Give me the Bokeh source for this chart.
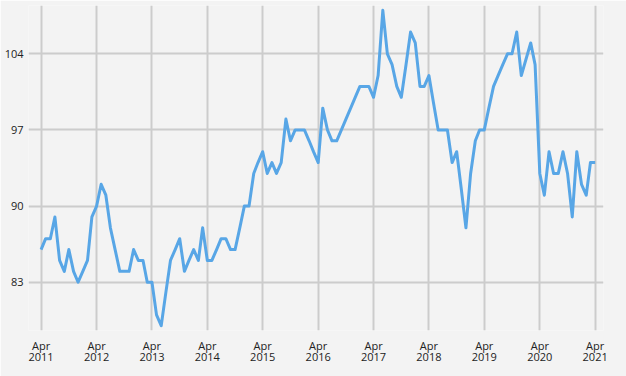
import pandas as pd
from bokeh.plotting import figure
from bokeh.models import FixedTicker, Range1d, ColumnDataSource
from bokeh.embed import file_html
from bokeh.resources import INLINE

start_month = "2011-04-01"
values = [
    # 2011 Apr-Dec
    86, 87, 87, 89, 85, 84, 86, 84, 83,
    # 2012
    84, 85, 89, 90, 92, 91, 88, 86, 84, 84, 84, 86,
    # 2013
    85, 85, 83, 83, 80, 79, 82, 85, 86, 87, 84, 85,
    # 2014
    86, 85, 88, 85, 85, 86, 87, 87, 86, 86, 88, 90,
    # 2015
    90, 93, 94, 95, 93, 94, 93, 94, 98, 96, 97, 97,
    # 2016
    97, 96, 95, 94, 99, 97, 96, 96, 97, 98, 99, 100,
    # 2017
    101, 101, 101, 100, 102, 108, 104, 103, 101, 100, 103, 106,
    # 2018
    105, 101, 101, 102, 99.5, 97, 97, 97, 94, 95, 91.5, 88,
    # 2019
    93, 96, 97, 97, 99, 101, 102, 103, 104, 104, 106, 102,
    # 2020
    103.5, 105, 103, 93, 91, 95, 93, 93, 95, 93, 89, 95,
    # 2021 Jan-Apr
    92, 91, 94, 94,
]
dates = pd.date_range(start_month, periods=len(values), freq="MS")

tick_years = list(range(2011, 2022))
tick_month_label = "Apr"
y_ticks = [83, 90, 97, 104]

def ms(d):
    return (pd.Timestamp(d) - pd.Timestamp("1970-01-01")) // pd.Timedelta(milliseconds=1)

x_ticks = [ms(f"{y}-04-01") for y in tick_years]
x_labels = {float(t): f"{tick_month_label}\n{y}" for t, y in zip(x_ticks, tick_years)}

src = ColumnDataSource(dict(x=dates, y=values))

BG = "#f3f3f3"
p = figure(width=626, height=376, x_axis_type="datetime",
           output_backend="svg", toolbar_location=None,
           background_fill_color=BG, border_fill_color=BG,
           min_border_left=28, min_border_right=23, min_border_top=5, min_border_bottom=46,
           x_range=Range1d(ms("2011-01-08"), ms("2021-05-26")),
           y_range=Range1d(78.56, 108.44))
p.outline_line_color = None

p.line("x", "y", source=src, line_color="#58a6e6", line_width=3, line_join="round")

p.xaxis.ticker = FixedTicker(ticks=x_ticks)
p.xaxis.major_label_overrides = x_labels
p.yaxis.ticker = FixedTicker(ticks=y_ticks)

for ax in (p.xaxis, p.yaxis):
    ax.axis_line_color = None
    ax.major_tick_line_color = None
    ax.minor_tick_line_color = None
    ax.major_tick_out = 0
    ax.major_tick_in = 0
    ax.minor_tick_out = 0
    ax.minor_tick_in = 0
    ax.major_label_text_font = "Open Sans"
    ax.major_label_text_font_size = "11px"
    ax.major_label_text_color = "#222222"
p.xaxis.major_label_text_line_height = 0.75
p.xaxis.major_label_standoff = 7
p.yaxis.major_label_standoff = 5

for g in (p.xgrid, p.ygrid):
    g.grid_line_color = "#cccccc"
    g.grid_line_width = 2
p.xgrid.ticker = FixedTicker(ticks=x_ticks)
p.ygrid.ticker = FixedTicker(ticks=y_ticks)

open("out.html", "w").write(file_html(p, INLINE))
